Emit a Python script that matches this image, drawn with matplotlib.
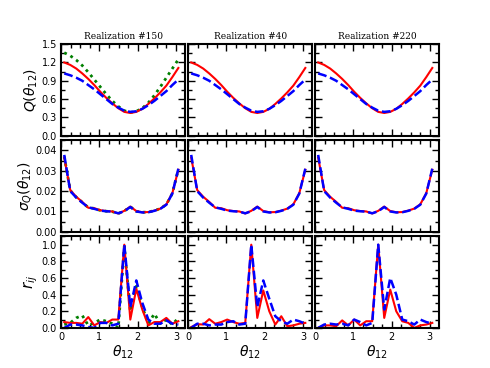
import numpy as np
import matplotlib
matplotlib.use("Agg")
from matplotlib import pyplot as plt
from matplotlib.ticker import MultipleLocator

# bin centres of theta_12 (20 bins over 0..pi)
theta = (np.arange(20) + 0.5) * np.pi / 20

titles = ["Realization #150", "Realization #40", "Realization #220"]

# Q(theta_12)
q_red = [1.20, 1.16, 1.10, 1.02, 0.93, 0.83, 0.72, 0.62, 0.53, 0.45,
         0.39, 0.372, 0.39, 0.44, 0.52, 0.61, 0.71, 0.82, 0.96, 1.11]
q_blue = [1.02, 0.99, 0.95, 0.90, 0.83, 0.76, 0.68, 0.60, 0.52, 0.46,
          0.41, 0.39, 0.40, 0.44, 0.50, 0.57, 0.65, 0.73, 0.83, 0.92]
q_green = [1.36, 1.31, 1.24, 1.15, 1.04, 0.92, 0.80, 0.68, 0.57, 0.48,
           0.41, 0.38, 0.40, 0.45, 0.54, 0.66, 0.80, 0.95, 1.10, 1.25]

# sigma_Q(theta_12)
s_red = [0.0365, 0.0205, 0.0172, 0.0147, 0.0118, 0.0116, 0.0106, 0.0102, 0.0100, 0.0090,
         0.0103, 0.0124, 0.0102, 0.0096, 0.0097, 0.0104, 0.0114, 0.0135, 0.0190, 0.0305]
s_blue = [0.0378, 0.0200, 0.0168, 0.0143, 0.0120, 0.0113, 0.0104, 0.0101, 0.0099, 0.0091,
          0.0101, 0.0122, 0.0100, 0.0095, 0.0096, 0.0103, 0.0113, 0.0133, 0.0188, 0.0310]
s_green = [0.0370, 0.0203, 0.0170, 0.0145, 0.0119, 0.0115, 0.0105, 0.0101, 0.0099, 0.0090,
           0.0102, 0.0123, 0.0101, 0.0096, 0.0097, 0.0104, 0.0114, 0.0134, 0.0189, 0.0307]

# r_ij, one list per realization
r_red = [
    [0.07, 0.06, 0.06, 0.05, 0.13, 0.03, 0.07, 0.06, 0.10, 0.10,
     1.00, 0.10, 0.47, 0.22, 0.03, 0.07, 0.07, 0.12, 0.05, 0.08],
    [0.01, 0.045, 0.04, 0.105, 0.05, 0.07, 0.10, 0.07, 0.05, 0.06,
     1.00, 0.12, 0.45, 0.20, 0.04, 0.14, 0.02, 0.03, 0.05, 0.06],
    [0.00, 0.03, 0.03, 0.02, 0.09, 0.03, 0.10, 0.03, 0.08, 0.08,
     1.00, 0.12, 0.46, 0.20, 0.08, 0.06, 0.00, 0.03, 0.04, 0.06],
]
r_blue = [
    [0.00, 0.04, 0.04, 0.03, 0.01, 0.00, 0.06, 0.06, 0.03, 0.05,
     1.00, 0.25, 0.57, 0.30, 0.10, 0.05, 0.05, 0.09, 0.05, 0.04],
    [0.00, 0.05, 0.05, 0.03, 0.04, 0.04, 0.07, 0.08, 0.04, 0.05,
     1.00, 0.25, 0.57, 0.35, 0.14, 0.08, 0.05, 0.10, 0.08, 0.05],
    [0.00, 0.04, 0.05, 0.04, 0.05, 0.03, 0.10, 0.07, 0.03, 0.06,
     1.00, 0.22, 0.60, 0.40, 0.10, 0.08, 0.04, 0.10, 0.07, 0.05],
]
r_green = [0.04, 0.06, 0.12, 0.15, 0.03, 0.06, 0.10, 0.08, 0.05, 0.00,
           0.98, 0.20, 0.50, 0.25, 0.05, 0.17, 0.05, 0.10, 0.04, 0.12]

fig, axes = plt.subplots(3, 3, figsize=(4.9, 3.68), dpi=100, sharex=True)
fig.subplots_adjust(left=0.125, right=0.896, top=0.880, bottom=0.109,
                    wspace=0.025, hspace=0.05)

red = dict(color="red", lw=1.5, ls="-")
blue = dict(color="blue", lw=1.8, ls=(0, (3.5, 1.5)))
green = dict(color="green", lw=2.0, ls=(0, (1, 1.5)))

for j in range(3):
    if j == 0:
        axes[0, j].plot(theta, q_green, **green)
        axes[1, j].plot(theta, s_green, **green)
        axes[2, j].plot(theta, r_green, **green)
    axes[0, j].plot(theta, q_red, **red)
    axes[0, j].plot(theta, q_blue, **blue)
    axes[1, j].plot(theta, s_red, **red)
    axes[1, j].plot(theta, s_blue, **blue)
    axes[2, j].plot(theta, r_red[j], **red)
    axes[2, j].plot(theta, r_blue[j], **blue)
    axes[0, j].set_title(titles[j], fontsize=6.5, family="DejaVu Serif", pad=4)

ylims = [(0, 1.5), (0, 0.045), (0, 1.1)]
majors = [0.3, 0.01, 0.2]
minors = [0.15, 0.005, 0.1]
for i in range(3):
    for j in range(3):
        ax = axes[i, j]
        ax.set_xlim(0, 3.24)
        ax.set_ylim(*ylims[i])
        ax.xaxis.set_major_locator(MultipleLocator(1))
        ax.xaxis.set_minor_locator(MultipleLocator(0.25))
        ax.yaxis.set_major_locator(MultipleLocator(majors[i]))
        ax.yaxis.set_minor_locator(MultipleLocator(minors[i]))
        ax.tick_params(which="both", direction="in", top=True, right=True,
                       labelsize=7, width=1.0, pad=3)
        ax.tick_params(which="major", length=5)
        ax.tick_params(which="minor", length=3)
        for sp in ax.spines.values():
            sp.set_linewidth(1.5)
        if j > 0:
            ax.tick_params(labelleft=False)
        if i == 2:
            ax.set_xlabel(r"$\theta_{12}$", fontsize=10, labelpad=1)

axes[0, 0].yaxis.set_major_formatter(plt.FormatStrFormatter("%.1f"))
axes[1, 0].yaxis.set_major_formatter(plt.FormatStrFormatter("%.2f"))
axes[2, 0].yaxis.set_major_formatter(plt.FormatStrFormatter("%.1f"))
axes[0, 0].set_ylabel(r"$Q(\theta_{12})$", fontsize=10, labelpad=1)
axes[1, 0].set_ylabel(r"$\sigma_Q(\theta_{12})$", fontsize=10, labelpad=1)
axes[2, 0].set_ylabel(r"$r_{ij}$", fontsize=11, labelpad=1)

fig.savefig("out.png", dpi=100)
